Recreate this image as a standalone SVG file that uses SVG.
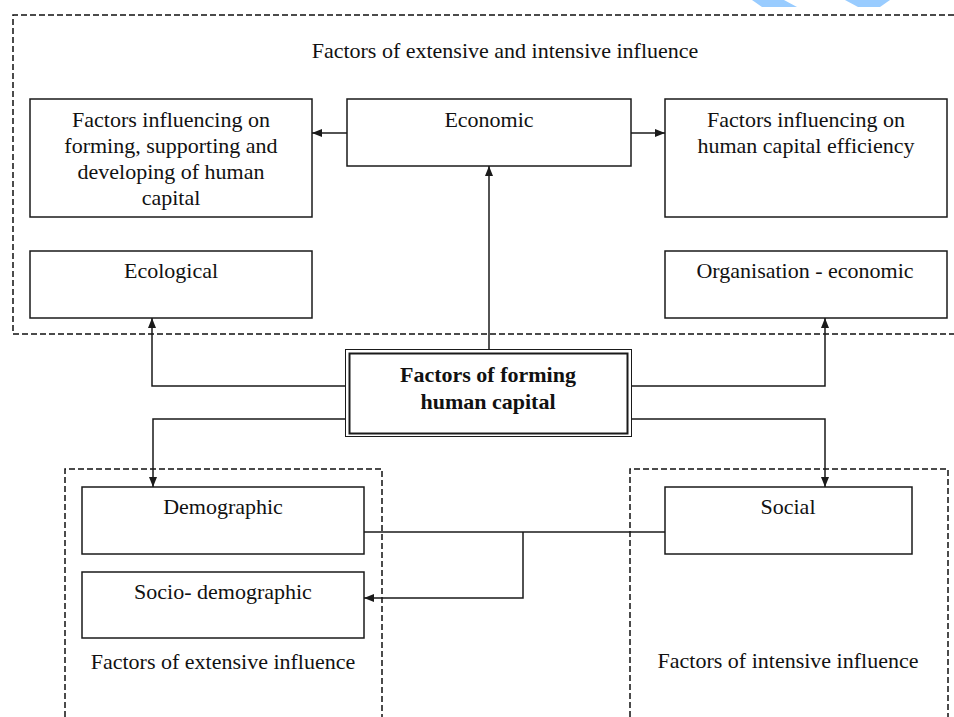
<svg xmlns="http://www.w3.org/2000/svg" width="954" height="717" viewBox="0 0 954 717">
  <defs>
    <marker id="arr" markerUnits="userSpaceOnUse" markerWidth="10" markerHeight="8" refX="10" refY="4" orient="auto">
      <path d="M0,0 L10,4 L0,8 z" fill="#1a1a1a"/>
    </marker>
  </defs>
  <style>
    .box { fill: #ffffff; stroke: #1a1a1a; stroke-width: 1.5; }
    .dash { fill: none; stroke: #111111; stroke-width: 1.5; stroke-dasharray: 6 3; }
    .conn { fill: none; stroke: #1a1a1a; stroke-width: 1.5; }
    .t { font-family: "Liberation Serif", "Times New Roman", serif; font-size: 22px; fill: #111; text-anchor: middle; }
    .tb { font-family: "Liberation Serif", "Times New Roman", serif; font-size: 22px; font-weight: bold; fill: #111; text-anchor: middle; }
    .deco { fill: #99ccff; }
  </style>
  <rect x="0" y="0" width="954" height="717" fill="#ffffff"/>

  <g id="decoration">
    <polygon class="deco" points="752,0 784,0 797,7 762,7"/>
    <polygon class="deco" points="845,0 890,0 880,7 858,7"/>
  </g>

  <g id="group-extensive-intensive">
    <path class="dash" d="M954,15 H13 V334 H954"/>
    <text class="t" x="505" y="58">Factors of extensive and intensive influence</text>
  </g>
  <g id="group-extensive">
    <path class="dash" d="M65,717 V469 H382 V717"/>
    <text class="t" x="223" y="669">Factors of extensive influence</text>
  </g>
  <g id="group-intensive">
    <path class="dash" d="M630,717 V469 H948 V717"/>
    <text class="t" x="788" y="668">Factors of intensive influence</text>
  </g>

  <g id="node-forming-supporting">
    <rect class="box" x="30" y="99" width="282" height="118"/>
    <text class="t" x="171" y="127">Factors influencing on</text>
    <text class="t" x="171" y="153">forming, supporting and</text>
    <text class="t" x="171" y="179">developing of human</text>
    <text class="t" x="171" y="205">capital</text>
  </g>
  <g id="node-economic">
    <rect class="box" x="347" y="99" width="284" height="67"/>
    <text class="t" x="489" y="127">Economic</text>
  </g>
  <g id="node-efficiency">
    <rect class="box" x="665" y="99" width="282" height="118"/>
    <text class="t" x="806" y="127">Factors influencing on</text>
    <text class="t" x="806" y="153">human capital efficiency</text>
  </g>
  <g id="node-ecological">
    <rect class="box" x="30" y="251" width="282" height="67"/>
    <text class="t" x="171" y="278">Ecological</text>
  </g>
  <g id="node-organisation">
    <rect class="box" x="665" y="251" width="282" height="67"/>
    <text class="t" x="805" y="278">Organisation - economic</text>
  </g>
  <g id="node-center">
    <rect x="345.5" y="349.5" width="286" height="87" fill="#ffffff" stroke="#1a1a1a" stroke-width="1"/>
    <rect x="349.5" y="353.5" width="278" height="80" fill="none" stroke="#1a1a1a" stroke-width="2"/>
    <text class="tb" x="488" y="382">Factors of forming</text>
    <text class="tb" x="488" y="409">human capital</text>
  </g>
  <g id="node-demographic">
    <rect class="box" x="82" y="487" width="282" height="67"/>
    <text class="t" x="223" y="514">Demographic</text>
  </g>
  <g id="node-socio-demographic">
    <rect class="box" x="82" y="572" width="282" height="66"/>
    <text class="t" x="223" y="599">Socio- demographic</text>
  </g>
  <g id="node-social">
    <rect class="box" x="665" y="487" width="247" height="67"/>
    <text class="t" x="788" y="514">Social</text>
  </g>

  <g id="connectors">
    <path class="conn" d="M347,133 H312" marker-end="url(#arr)"/>
    <path class="conn" d="M631,133 H665" marker-end="url(#arr)"/>
    <path class="conn" d="M489,349 V166" marker-end="url(#arr)"/>
    <path class="conn" d="M345,386 H152 V318" marker-end="url(#arr)"/>
    <path class="conn" d="M632,386 H825 V318" marker-end="url(#arr)"/>
    <path class="conn" d="M345,419 H153 V487" marker-end="url(#arr)"/>
    <path class="conn" d="M632,419 H825 V487" marker-end="url(#arr)"/>
    <path class="conn" d="M364,532 H665"/>
    <path class="conn" d="M523,532 V598 H364" marker-end="url(#arr)"/>
  </g>
</svg>
